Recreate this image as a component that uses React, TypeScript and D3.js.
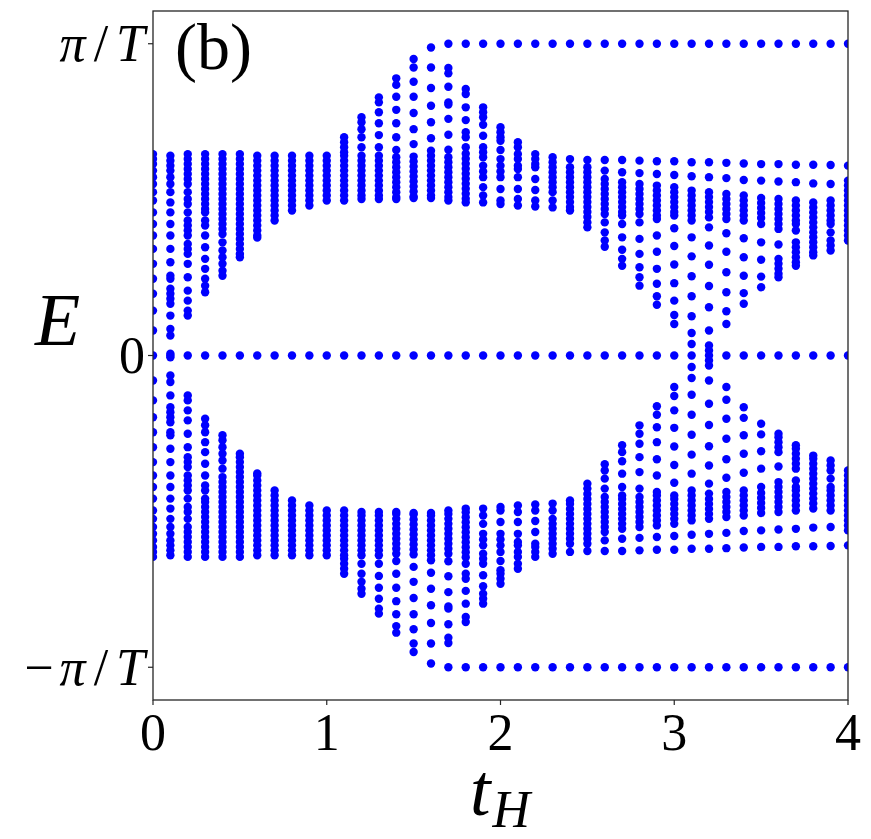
import React from "react";
import * as d3 from "d3";

// hopping t_H for each column of eigenvalues
const tH = [
  0, 0.1, 0.2, 0.3, 0.4, 0.5, 0.6, 0.7, 0.8, 0.9, 1.0, 1.1, 1.2, 1.3, 1.4, 1.5, 1.6, 1.7, 1.8, 1.9, 2.0,
  2.1, 2.2, 2.3, 2.4, 2.5, 2.6, 2.7, 2.8, 2.9, 3.0, 3.1, 3.2, 3.3, 3.4, 3.5, 3.6, 3.7, 3.8, 3.9, 4.0,
];

// quasi-energies E >= 0 (units of pi/T); spectrum is symmetric E -> -E
const levels = [
  [0, 0.646, 0.63, 0.614, 0.593, 0.572, 0.55, 0.524, 0.497, 0.459, 0.422, 0.385, 0.342, 0.294, 0.246, 0.198, 0.144, 0.08],
  [0, 0.006, 0.641, 0.625, 0.609, 0.593, 0.572, 0.55, 0.524, 0.491, 0.459, 0.422, 0.385, 0.342, 0.299, 0.256, 0.246, 0.214, 0.198, 0.182, 0.166, 0.128, 0.085, 0.064],
  [0, 0.646, 0.63, 0.614, 0.598, 0.582, 0.566, 0.55, 0.524, 0.502, 0.486, 0.459, 0.433, 0.417, 0.401, 0.385, 0.358, 0.342, 0.326, 0.294, 0.251, 0.208, 0.176, 0.144, 0.128],
  [0, 0.646, 0.63, 0.614, 0.598, 0.582, 0.566, 0.55, 0.534, 0.518, 0.502, 0.486, 0.47, 0.459, 0.433, 0.417, 0.385, 0.347, 0.31, 0.278, 0.246, 0.224, 0.203],
  [0, 0.646, 0.63, 0.614, 0.598, 0.582, 0.566, 0.55, 0.534, 0.518, 0.502, 0.486, 0.47, 0.454, 0.438, 0.422, 0.406, 0.39, 0.363, 0.337, 0.315, 0.294, 0.272, 0.256],
  [0, 0.646, 0.63, 0.614, 0.598, 0.582, 0.566, 0.55, 0.534, 0.518, 0.502, 0.486, 0.47, 0.454, 0.438, 0.422, 0.406, 0.39, 0.374, 0.358, 0.342, 0.326, 0.315],
  [0, 0.641, 0.625, 0.609, 0.593, 0.577, 0.561, 0.545, 0.529, 0.513, 0.497, 0.481, 0.465, 0.449, 0.433, 0.417, 0.401, 0.385, 0.378],
  [0, 0.641, 0.625, 0.609, 0.593, 0.577, 0.561, 0.545, 0.529, 0.513, 0.497, 0.481, 0.465, 0.449, 0.433],
  [0, 0.641, 0.625, 0.609, 0.593, 0.577, 0.561, 0.545, 0.529, 0.513, 0.497, 0.481, 0.465],
  [0, 0.641, 0.625, 0.609, 0.593, 0.577, 0.561, 0.545, 0.529, 0.513, 0.497, 0.481],
  [0, 0.641, 0.625, 0.609, 0.593, 0.577, 0.561, 0.545, 0.529, 0.513, 0.497],
  [0, 0.7, 0.684, 0.668, 0.652, 0.641, 0.625, 0.609, 0.593, 0.577, 0.561, 0.545, 0.529, 0.513, 0.497],
  [0, 0.764, 0.748, 0.726, 0.7, 0.668, 0.641, 0.625, 0.609, 0.593, 0.577, 0.561, 0.545, 0.529, 0.513, 0.502],
  [0, 0.828, 0.812, 0.78, 0.745, 0.707, 0.668, 0.641, 0.625, 0.609, 0.593, 0.577, 0.561, 0.545, 0.529, 0.513, 0.502],
  [0, 0.889, 0.868, 0.83, 0.788, 0.745, 0.7, 0.659, 0.636, 0.62, 0.604, 0.588, 0.572, 0.556, 0.54, 0.524, 0.508, 0.502],
  [0, 0.951, 0.924, 0.878, 0.83, 0.778, 0.726, 0.678, 0.638, 0.622, 0.606, 0.59, 0.574, 0.558, 0.542, 0.526, 0.51, 0.505],
  [0, 0.988, 0.924, 0.858, 0.801, 0.748, 0.697, 0.657, 0.641, 0.625, 0.609, 0.593, 0.577, 0.561, 0.545, 0.529, 0.513, 0.505],
  [0, 1.0, 0.922, 0.905, 0.862, 0.812, 0.805, 0.759, 0.708, 0.66, 0.636, 0.62, 0.604, 0.588, 0.572, 0.556, 0.54, 0.524, 0.508, 0.497],
  [0, 1.0, 0.855, 0.839, 0.796, 0.755, 0.716, 0.7, 0.668, 0.647, 0.631, 0.615, 0.599, 0.583, 0.567, 0.551, 0.535, 0.519, 0.503, 0.491],
  [0, 1.0, 0.796, 0.78, 0.764, 0.74, 0.705, 0.668, 0.652, 0.636, 0.609, 0.59, 0.572, 0.54, 0.513, 0.491],
  [0, 1.0, 0.732, 0.716, 0.7, 0.689, 0.659, 0.63, 0.609, 0.59, 0.572, 0.534, 0.497, 0.486],
  [0, 1.0, 0.684, 0.668, 0.646, 0.63, 0.609, 0.598, 0.572, 0.534, 0.502, 0.481],
  [0, 1.0, 0.646, 0.63, 0.614, 0.604, 0.566, 0.531, 0.497, 0.478],
  [0, 1.0, 0.636, 0.62, 0.604, 0.588, 0.572, 0.556, 0.54, 0.524, 0.497, 0.475],
  [0, 1.0, 0.63, 0.604, 0.588, 0.572, 0.556, 0.54, 0.524, 0.508, 0.492, 0.476, 0.465],
  [0, 1.0, 0.627, 0.604, 0.588, 0.572, 0.556, 0.54, 0.524, 0.508, 0.492, 0.476, 0.46, 0.444, 0.427, 0.411],
  [0, 1.0, 0.627, 0.593, 0.566, 0.55, 0.534, 0.518, 0.502, 0.486, 0.47, 0.454, 0.427, 0.395, 0.369, 0.349],
  [0, 1.0, 0.627, 0.588, 0.556, 0.54, 0.524, 0.508, 0.492, 0.476, 0.46, 0.449, 0.422, 0.379, 0.339, 0.31, 0.288],
  [0, 1.0, 0.625, 0.585, 0.55, 0.534, 0.518, 0.502, 0.486, 0.47, 0.454, 0.427, 0.374, 0.326, 0.283, 0.251, 0.224],
  [0, 1.0, 0.623, 0.582, 0.545, 0.529, 0.513, 0.497, 0.481, 0.465, 0.449, 0.438, 0.385, 0.333, 0.278, 0.23, 0.19, 0.163],
  [0, 1.0, 0.623, 0.579, 0.54, 0.524, 0.508, 0.492, 0.476, 0.46, 0.449, 0.408, 0.351, 0.292, 0.232, 0.176, 0.13, 0.101],
  [0, 1.0, 0.62, 0.575, 0.529, 0.513, 0.497, 0.481, 0.465, 0.449, 0.433, 0.379, 0.318, 0.254, 0.19, 0.126, 0.072, 0.037],
  [0, 1.0, 0.62, 0.572, 0.524, 0.508, 0.492, 0.476, 0.46, 0.443, 0.411, 0.353, 0.291, 0.223, 0.155, 0.08, 0.032, 0.016],
  [0, 1.0, 0.618, 0.569, 0.518, 0.502, 0.486, 0.47, 0.454, 0.438, 0.392, 0.333, 0.267, 0.203, 0.142, 0.101],
  [0, 1.0, 0.616, 0.563, 0.513, 0.497, 0.481, 0.465, 0.449, 0.433, 0.376, 0.315, 0.256, 0.2, 0.166],
  [0, 1.0, 0.614, 0.561, 0.505, 0.489, 0.473, 0.457, 0.441, 0.422, 0.363, 0.307, 0.253, 0.219],
  [0, 1.0, 0.614, 0.558, 0.502, 0.486, 0.47, 0.454, 0.438, 0.422, 0.406, 0.356, 0.31, 0.294, 0.278, 0.262, 0.251],
  [0, 1.0, 0.612, 0.556, 0.497, 0.481, 0.465, 0.449, 0.433, 0.422, 0.401, 0.363, 0.347, 0.331, 0.315, 0.299, 0.288],
  [0, 1.0, 0.612, 0.552, 0.491, 0.475, 0.459, 0.443, 0.427, 0.411, 0.395, 0.379, 0.363, 0.347, 0.331, 0.321],
  [0, 1.0, 0.611, 0.55, 0.497, 0.481, 0.465, 0.449, 0.433, 0.422, 0.395, 0.369, 0.353, 0.337],
  [0, 1.0, 0.609, 0.561, 0.545, 0.529, 0.513, 0.497, 0.481, 0.465, 0.449, 0.433, 0.417, 0.401, 0.385, 0.369],
];

const xTicks = [0, 1, 2, 3, 4];
const yTicks = [-1, 0, 1];

const width = 871;
const height = 839;
const margin = { top: 11, right: 23, bottom: 139, left: 153 };
const serif = {
  fontFamily: "'Times New Roman', Times, 'Liberation Serif', 'Noto Serif', 'DejaVu Serif', serif",
};

const YLabel = ({ v }: { v: number }) => {
  if (v === 0) return <tspan>0</tspan>;
  return (
    <>
      {v < 0 && <tspan>{"\u2212"}</tspan>}
      <tspan fontStyle="italic" dx={v < 0 ? 6 : 0}>π</tspan>
      <tspan dx={8}>/</tspan>
      <tspan fontStyle="italic" dx={8}>T</tspan>
    </>
  );
};

const App = () => {
  const innerW = width - margin.left - margin.right;
  const innerH = height - margin.top - margin.bottom;

  const x = d3.scaleLinear().domain([0, 4]).range([0, innerW]);
  const y = d3.scaleLinear().domain([-1.105, 1.105]).range([innerH, 0]);

  const points: { t: number; e: number }[] = [];
  levels.forEach((col, i) => {
    col.forEach((e) => {
      points.push({ t: tH[i], e });
      if (e !== 0) points.push({ t: tH[i], e: -e });
    });
  });

  return (
    <svg width={width} height={height} style={{ position: "absolute", left: 0, top: 0, background: "#fff" }}>
      <defs>
        <clipPath id="plotClip">
          <rect x={0} y={0} width={innerW} height={innerH} />
        </clipPath>
      </defs>
      <g transform={`translate(${margin.left},${margin.top})`}>
        <g clipPath="url(#plotClip)">
          {points.map((p, i) => (
            <circle key={i} cx={x(p.t)} cy={y(p.e)} r={4.2} fill="#0000ff" />
          ))}
        </g>
        <rect x={0} y={0} width={innerW} height={innerH} fill="none" stroke="#262626" strokeWidth={1.3} />

        {xTicks.map((t) => (
          <g key={t} transform={`translate(${x(t)},${innerH})`}>
            <line y1={0} y2={5} stroke="#262626" strokeWidth={1.2} />
            <text y={50} textAnchor="middle" style={serif} fontSize={52}>
              {t}
            </text>
          </g>
        ))}
        {yTicks.map((t) => (
          <g key={t} transform={`translate(0,${y(t)})`}>
            <line x1={-5} x2={0} stroke="#262626" strokeWidth={1.2} />
            <text x={-8} dy="0.34em" textAnchor="end" style={serif} fontSize={52}>
              <YLabel v={t} />
            </text>
          </g>
        ))}

        <text x={22} y={58} style={serif} fontSize={66}>
          (b)
        </text>
      </g>

      <text x={35} y={345} style={serif} fontSize={74} fontStyle="italic">
        E
      </text>
      <text x={470} y={815} style={serif} fontSize={74} fontStyle="italic">
        t
        <tspan fontSize={52} dy={12} dx={2}>H</tspan>
      </text>
    </svg>
  );
};

export default App;
